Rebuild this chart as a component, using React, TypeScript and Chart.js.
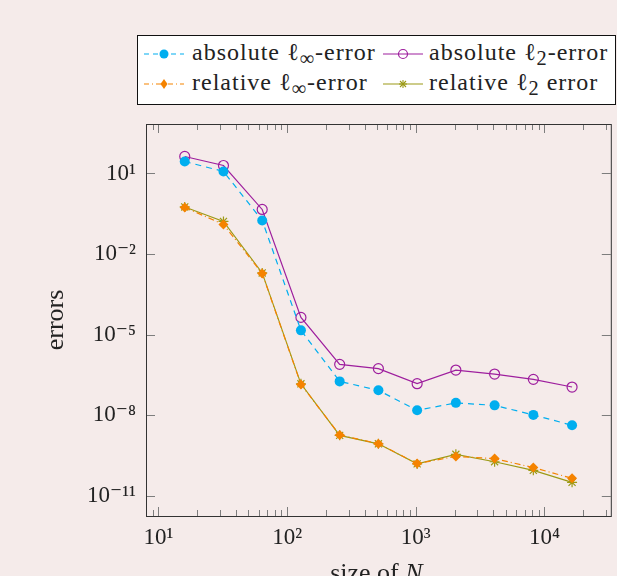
import React, { useEffect, useRef } from "react";
import { Chart, registerables } from "chart.js";

Chart.register(...registerables);

// ---- data ----
const sizesN = [16, 32, 64, 128, 256, 512, 1024, 2048, 4096, 8192, 16384];
const absInfError = [27.9, 11.9, 0.179, 1.46e-5, 1.85e-7, 8.6e-8, 1.55e-8, 2.94e-8, 2.37e-8, 1.05e-8, 4.3e-9];
const absL2Error = [42.9, 19.8, 0.459, 4.43e-5, 7.94e-7, 5.5e-7, 1.52e-7, 4.87e-7, 3.46e-7, 2.2e-7, 1.14e-7];
const relInfError = [0.545, 0.127, 1.92e-3, 1.43e-7, 1.87e-9, 8.9e-10, 1.62e-10, 3.0e-10, 2.48e-10, 1.15e-10, 4.6e-11];
const relL2Error = [0.569, 0.164, 2.0e-3, 1.5e-7, 1.82e-9, 8.8e-10, 1.58e-10, 3.58e-10, 1.9e-10, 9.1e-11, 3.26e-11];

const yTickValues = [1e1, 1e-2, 1e-5, 1e-8, 1e-11];
const yTickLabels = ["10¹", "10⁻²", "10⁻⁵", "10⁻⁸", "10⁻¹¹"];
const xMajorValues = [1e1, 1e2, 1e3, 1e4];
const xTickLabels = ["10¹", "10²", "10³", "10⁴"];
const xMinorMantissas = [2, 3, 4, 5, 6, 7, 8, 9];

const X_MIN = 8;
const X_MAX = 32768;
const Y_MIN = 1.82e-12;
const Y_MAX = 692;

const BLUE = "#00aeef";
const PURPLE = "#9e1f9e";
const ORANGE = "#f58300";
const OLIVE = "#9c9a16";
const BG = "#f5ebea";
const FONT = "'Liberation Serif', 'DejaVu Serif', serif";

function xTickValues(): number[] {
  const vals: number[] = [8, 9];
  for (const p of xMajorValues) {
    vals.push(p);
    for (const m of xMinorMantissas) {
      const v = m * p;
      if (v <= X_MAX) vals.push(v);
    }
  }
  return vals;
}

const framePlugin = {
  id: "pgfFrame",
  beforeDatasetsDraw(chart: any) {
    const { ctx, chartArea: a, scales } = chart;
    const xs = scales.x;
    const ys = scales.y;
    ctx.save();
    ctx.strokeStyle = "#7d7d7d";
    ctx.lineWidth = 1;
    ctx.beginPath();
    for (const t of xs.ticks) {
      const px = Math.round(xs.getPixelForValue(t.value)) + 0.5;
      const major = xMajorValues.indexOf(t.value) >= 0;
      const len = major ? 9 : 6;
      ctx.moveTo(px, a.bottom);
      ctx.lineTo(px, a.bottom - len);
      ctx.moveTo(px, a.top);
      ctx.lineTo(px, a.top + len);
    }
    for (const t of ys.ticks) {
      const py = Math.round(ys.getPixelForValue(t.value)) + 0.5;
      ctx.moveTo(a.left, py);
      ctx.lineTo(a.left + 9, py);
      ctx.moveTo(a.right, py);
      ctx.lineTo(a.right - 9, py);
    }
    ctx.stroke();
    ctx.strokeStyle = "#333333";
    ctx.strokeRect(a.left + 0.5, a.top + 0.5, a.right - a.left, a.bottom - a.top);
    ctx.restore();
  },
  afterDraw(chart: any) {
    const { ctx, chartArea: a } = chart;
    ctx.save();
    ctx.fillStyle = "#222222";
    ctx.font = `26px ${FONT}`;
    // y title
    ctx.save();
    ctx.translate(56, (a.top + a.bottom) / 2);
    ctx.rotate(-Math.PI / 2);
    ctx.textAlign = "center";
    ctx.textBaseline = "middle";
    ctx.fillText("errors", 0, 0);
    ctx.restore();
    // x title
    const cx = (a.left + a.right) / 2 - 2;
    const part1 = "size of ";
    ctx.font = `26px ${FONT}`;
    const w1 = ctx.measureText(part1).width;
    ctx.font = `italic 26px ${FONT}`;
    const w2 = ctx.measureText("N").width;
    const start = cx - (w1 + w2) / 2;
    ctx.textAlign = "left";
    ctx.textBaseline = "alphabetic";
    ctx.font = `26px ${FONT}`;
    ctx.fillText(part1, start, 581);
    ctx.font = `italic 26px ${FONT}`;
    ctx.fillText("N", start + w1, 581);
    ctx.restore();
  },
};

type Sub = { base: string; sub: string; tail: string };

const legendRows: { text: Sub; color: string; dash: string; marker: string }[] = [
  { text: { base: "absolute ℓ", sub: "∞", tail: "-error" }, color: BLUE, dash: "5 4", marker: "dot" },
  { text: { base: "absolute ℓ", sub: "2", tail: "-error" }, color: PURPLE, dash: "", marker: "ring" },
  { text: { base: "relative ℓ", sub: "∞", tail: "-error" }, color: ORANGE, dash: "5 3 1 3", marker: "diamond" },
  { text: { base: "relative ℓ", sub: "2", tail: " error" }, color: OLIVE, dash: "", marker: "star" },
];

function Marker({ kind, color }: { kind: string; color: string }) {
  const cx = 20;
  const cy = 8;
  if (kind === "dot") return <circle cx={cx} cy={cy} r={4.5} fill={color} />;
  if (kind === "ring") return <circle cx={cx} cy={cy} r={4.5} fill="none" stroke={color} strokeWidth={1.2} />;
  if (kind === "diamond")
    return <polygon points={`${cx},${cy - 5} ${cx + 3.5},${cy} ${cx},${cy + 5} ${cx - 3.5},${cy}`} fill={color} />;
  return (
    <g stroke={color} strokeWidth={1.1}>
      <line x1={cx - 4} y1={cy} x2={cx + 4} y2={cy} />
      <line x1={cx} y1={cy - 4} x2={cx} y2={cy + 4} />
      <line x1={cx - 3} y1={cy - 3} x2={cx + 3} y2={cy + 3} />
      <line x1={cx - 3} y1={cy + 3} x2={cx + 3} y2={cy - 3} />
    </g>
  );
}

function Legend() {
  const boxLeft = 137;
  const boxTop = 35;
  const colSample = [144, 383];
  const colText = [192, 429];
  const rowCenter = [54, 84];
  const rowTextTop = [40, 70];
  return (
    <div
      style={{
        position: "absolute",
        left: boxLeft,
        top: boxTop,
        width: 477,
        height: 68,
        background: "#ffffff",
        border: "1px solid #111",
      }}
    >
      {legendRows.map((r, i) => {
        const col = i % 2;
        const row = Math.floor(i / 2);
        return (
          <React.Fragment key={i}>
            <svg
              width={40}
              height={16}
              style={{ position: "absolute", left: colSample[col] - boxLeft - 1, top: rowCenter[row] - boxTop - 1 - 8 }}
            >
              <line x1={0} y1={8} x2={40} y2={8} stroke={r.color} strokeWidth={1.1} strokeDasharray={r.dash || undefined} />
              <Marker kind={r.marker} color={r.color} />
            </svg>
            <div
              style={{
                position: "absolute",
                left: colText[col] - boxLeft - 1,
                top: rowTextTop[row] - boxTop - 1,
                fontFamily: FONT,
                fontSize: 24,
                lineHeight: "24px",
                letterSpacing: "1px",
                color: "#222",
                whiteSpace: "nowrap",
              }}
            >
              {r.text.base}
              <span style={{ fontSize: "0.85em", verticalAlign: "-0.26em", lineHeight: 0 }}>{r.text.sub}</span>
              {r.text.tail}
            </div>
          </React.Fragment>
        );
      })}
    </div>
  );
}

export default function App() {
  const canvasRef = useRef<HTMLCanvasElement | null>(null);

  useEffect(() => {
    const canvas = canvasRef.current;
    if (!canvas) return;
    const mk = (ys: number[]) => sizesN.map((n, i) => ({ x: n, y: ys[i] }));
    const chart = new Chart(canvas, {
      type: "line",
      data: {
        datasets: [
          {
            label: "absolute ℓ∞-error",
            data: mk(absInfError),
            borderColor: BLUE,
            backgroundColor: BLUE,
            borderWidth: 1.2,
            borderDash: [6, 5],
            pointStyle: "circle",
            pointRadius: 5,
            pointBorderWidth: 0,
            pointBackgroundColor: BLUE,
            pointBorderColor: BLUE,
          },
          {
            label: "absolute ℓ2-error",
            data: mk(absL2Error),
            borderColor: PURPLE,
            backgroundColor: PURPLE,
            borderWidth: 1.2,
            pointStyle: "circle",
            pointRadius: 5,
            pointBorderWidth: 1.2,
            pointBackgroundColor: "rgba(0,0,0,0)",
            pointBorderColor: PURPLE,
          },
          {
            label: "relative ℓ∞-error",
            data: mk(relInfError),
            borderColor: ORANGE,
            backgroundColor: ORANGE,
            borderWidth: 1.2,
            borderDash: [6, 3, 1, 3],
            pointStyle: "rectRot",
            pointRadius: 5,
            pointBorderWidth: 0,
            pointBackgroundColor: ORANGE,
            pointBorderColor: ORANGE,
          },
          {
            label: "relative ℓ2 error",
            data: mk(relL2Error),
            borderColor: OLIVE,
            backgroundColor: OLIVE,
            borderWidth: 1.2,
            pointStyle: "star",
            pointRadius: 5,
            pointBorderWidth: 1.2,
            pointBackgroundColor: OLIVE,
            pointBorderColor: OLIVE,
          },
        ],
      },
      options: {
        animation: false,
        responsive: false,
        devicePixelRatio: 1,
        events: [],
        layout: { padding: { top: 124, right: 1, left: 0, bottom: 0 } },
        plugins: { legend: { display: false }, tooltip: { enabled: false }, title: { display: false } },
        scales: {
          x: {
            type: "logarithmic",
            min: X_MIN,
            max: X_MAX,
            grid: { display: false, drawTicks: false },
            border: { display: false },
            afterBuildTicks: (s: any) => {
              s.ticks = xTickValues().map((v) => ({ value: v }));
            },
            afterFit: (s: any) => {
              s.height = 60;
            },
            ticks: {
              autoSkip: false,
              maxRotation: 0,
              minRotation: 0,
              padding: 8,
              color: "#222",
              font: { family: FONT, size: 23 },
              callback: (v: any) => {
                const i = xMajorValues.indexOf(Number(v));
                return i >= 0 ? xTickLabels[i] : "";
              },
            },
          },
          y: {
            type: "logarithmic",
            min: Y_MIN,
            max: Y_MAX,
            grid: { display: false, drawTicks: false },
            border: { display: false },
            afterBuildTicks: (s: any) => {
              s.ticks = yTickValues.map((v) => ({ value: v }));
            },
            afterFit: (s: any) => {
              s.width = 146;
            },
            ticks: {
              autoSkip: false,
              padding: 10,
              color: "#222",
              font: { family: FONT, size: 23 },
              callback: (v: any) => {
                const i = yTickValues.indexOf(Number(v));
                return i >= 0 ? yTickLabels[i] : "";
              },
            },
          },
        },
      },
      plugins: [framePlugin],
    } as any);
    return () => chart.destroy();
  }, []);

  return (
    <div
      style={{
        position: "fixed",
        left: 0,
        top: 0,
        width: 617,
        height: 576,
        overflow: "hidden",
        background: BG,
      }}
    >
      <canvas ref={canvasRef} width={617} height={576} style={{ position: "absolute", left: 0, top: 0 }} />
      <Legend />
    </div>
  );
}
